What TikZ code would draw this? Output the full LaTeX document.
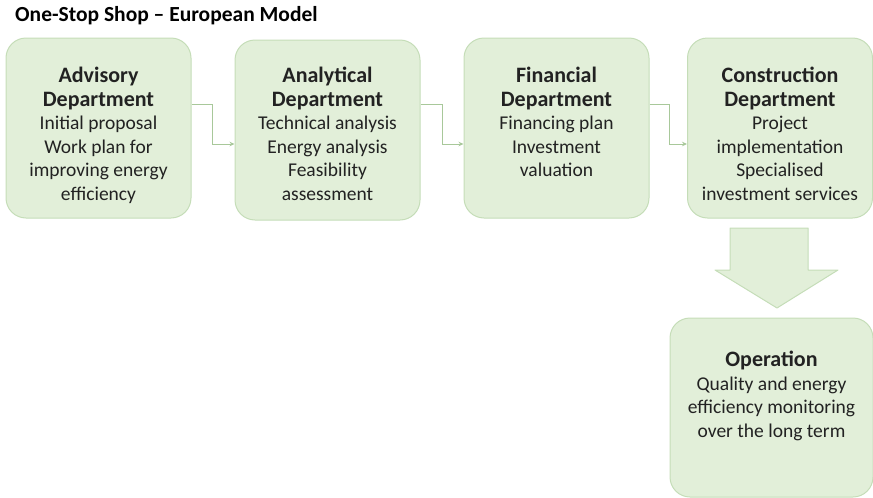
\documentclass[tikz,border=0pt]{standalone}
\usepackage{fontspec}
\setmainfont{Carlito}
\usetikzlibrary{arrows.meta, positioning, calc}

\definecolor{boxfill}{HTML}{E2EFD9}
\definecolor{boxline}{HTML}{C5DDB8}
\definecolor{linkcol}{HTML}{A8C89A}
\definecolor{txt}{HTML}{222222}

% top-aligned text block inside a department box
\newcommand{\boxtext}[3]{\parbox[c][#1][t]{#2}{\centering\vspace*{29pt}#3}}
% bold box heading
\newcommand{\hd}[1]{{\bfseries\fontsize{22}{23.6}\selectfont #1}}

\begin{document}
\begin{tikzpicture}[
    x=1pt, y=-1pt,
    >=Stealth,
    every node/.style={font=\fontsize{19.5}{23.6}\selectfont, text=txt},
    dept/.style={rectangle, draw=boxline, line width=1pt, fill=boxfill, rounded corners=20pt, minimum width=185pt, minimum height=180pt, inner sep=0pt},
    link/.style={draw=linkcol, line width=0.8pt, -{Stealth[length=5pt, width=4.5pt]}},
    headline/.style={font=\bfseries\fontsize{21.5}{24}\selectfont, text=black, anchor=base west, inner sep=0pt},
    bigarrow/.style={fill=boxfill, draw=boxline, line width=1pt, line join=round}
]
\useasboundingbox (0,0) rectangle (873,498);

% ============================================================
% TITLE
% ============================================================
\node[headline] (title) at (15,21) {One-Stop Shop – European Model};

% ============================================================
% DEPARTMENTS
% ============================================================
\node[dept] (adv) at (98.5,128) {\boxtext{180pt}{180pt}{\hd{Advisory}\\ \hd{Department}\\ Initial proposal\\ Work plan for\\ improving energy\\ efficiency}};
\node[dept] (ana) at (327.5,130) {\boxtext{180pt}{180pt}{\vspace*{-2pt}\hd{Analytical}\\ \hd{Department}\\ Technical analysis\\ Energy analysis\\ Feasibility\\ assessment}};
\node[dept] (fin) at (556.5,128) {\boxtext{180pt}{180pt}{\hd{Financial}\\ \hd{Department}\\ Financing plan\\ Investment\\ valuation}};
\node[dept] (con) at (780,128) {\boxtext{180pt}{180pt}{\hd{Construction}\\ \hd{Department}\\ Project\\ implementation\\ Specialised\\ investment services}};

\draw[link] ($(adv.east)+(0,-24)$) -- ++(21,0) |- ($(ana.west)+(0,14)$);
\draw[link] ($(ana.east)+(0,-26)$) -- ++(22,0) |- ($(fin.west)+(0,16)$);
\draw[link] ($(fin.east)+(0,-24)$) -- ++(20,0) |- ($(con.west)+(0,16)$);

% ============================================================
% OPERATION
% ============================================================
\draw[bigarrow] (730,228) -- (808,228) -- (808,270) -- (838,270) -- (777,308) -- (715,270) -- (730,270) -- cycle;

\node[dept, minimum width=203pt, minimum height=179pt] (op) at (771.5,407.5) {\boxtext{179pt}{198pt}{\vspace*{4pt}\hd{Operation}\\ Quality and energy\\ efficiency monitoring\\ over the long term}};

\end{tikzpicture}
\end{document}
